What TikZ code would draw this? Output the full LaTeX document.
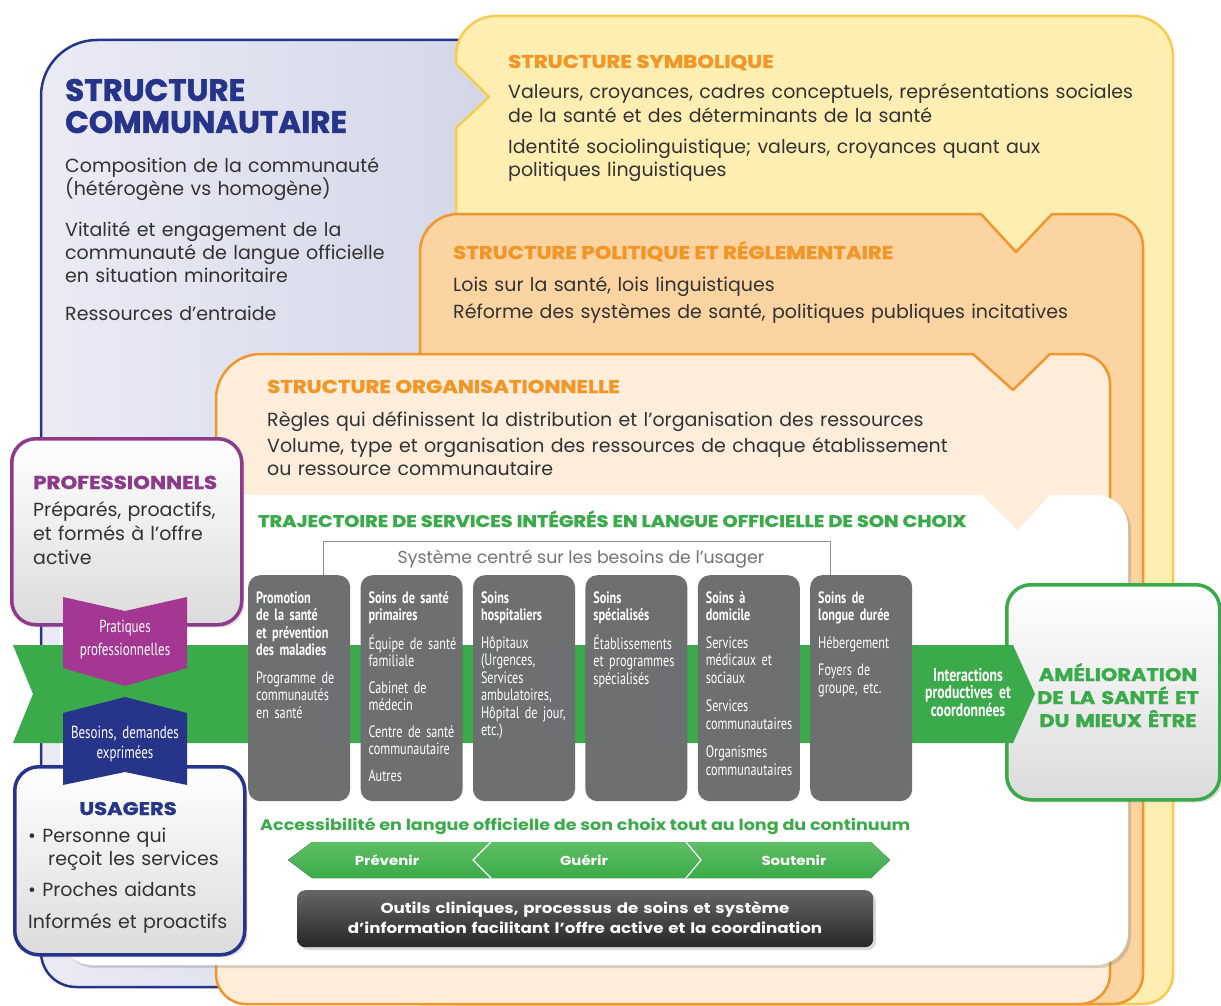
\documentclass[tikz,border=0pt]{standalone}
\usepackage{fontspec}
\setmainfont{Poppins}
\newfontfamily\narrowfont[FakeStretch=0.74]{PT Sans}
\newfontfamily\widefont[FakeStretch=1.15]{Poppins}
\newfontfamily\blackfont[FakeBold=1.5]{Poppins}
\newfontfamily\wideblack[FakeStretch=1.15,FakeBold=1.5]{Poppins}
\usetikzlibrary{positioning,shadows}

\definecolor{commblue}{RGB}{38,52,138}
\definecolor{commfill}{RGB}{234,235,245}
\definecolor{commfilldark}{RGB}{200,205,225}
\definecolor{symbline}{RGB}{247,203,80}
\definecolor{symbfill}{RGB}{254,238,178}
\definecolor{polline}{RGB}{240,150,45}
\definecolor{polfill}{RGB}{251,212,162}
\definecolor{orgfill}{RGB}{253,237,218}
\definecolor{headorange}{RGB}{242,150,40}
\definecolor{trajgreen}{RGB}{58,170,74}
\definecolor{lightgreen}{RGB}{95,190,100}
\definecolor{colgrey}{RGB}{110,111,113}
\definecolor{profpurple}{RGB}{140,58,140}
\definecolor{ribbonpurple}{RGB}{163,55,145}
\definecolor{bodytext}{RGB}{50,50,50}

\tikzset{
    panel/.style={line width=2.5pt, line join=round},
    orangehead/.style={anchor=base west, inner sep=0pt, text=headorange, font=\wideblack\bfseries\fontsize{18.5}{18.5}\selectfont},
    bodytxt/.style={anchor=base west, inner sep=0pt, align=left, text width=700pt, text=bodytext, font=\fontsize{19}{23.5}\selectfont},
    actor/.style={line width=3.5pt, rounded corners=24pt, top color=white, bottom color=black!14, anchor=north west, drop shadow={opacity=.25}},
    servicebox/.style={fill=colgrey, rounded corners=12pt, minimum width=102pt, minimum height=226pt, inner sep=0pt},
    servicetxt/.style={anchor=base west, inner sep=0pt, align=left, text width=110pt, text=white, font=\narrowfont\fontsize{16.5}{17.5}\selectfont},
    ribbontxt/.style={anchor=base, inner sep=0pt, align=center, text width=130pt, text=white, font=\narrowfont\fontsize{17.5}{23}\selectfont},
    stage/.style={text=white, font=\widefont\bfseries\fontsize{13}{13}\selectfont},
}

\begin{document}
\begin{tikzpicture}[x=1pt, y=-1pt]
    \useasboundingbox (0,0) rectangle (1221,1006);
    \fill[white] (0,0) rectangle (1221,1006);

    % nested structures, back to front
    \draw[panel, commblue, left color=commfill, right color=commfilldark]
        (700,40) -- (97,40) arc[start angle=270, end angle=180, radius=56]
        -- (41,952) arc[start angle=180, end angle=90, radius=35] -- (700,987) -- cycle;
    \draw[panel, symbline, fill=symbfill]
        (456,1004) -- (456,128) -- (489,97) -- (456,64) -- (456,56)
        arc[start angle=180, end angle=270, radius=40] -- (1133,16)
        arc[start angle=270, end angle=360, radius=40] -- (1173,974)
        arc[start angle=0, end angle=90, radius=30] -- cycle;
    \draw[panel, polline, fill=polfill]
        (420,1004) -- (420,252) arc[start angle=180, end angle=270, radius=38]
        -- (981,214) -- (1016,252) -- (1052,214) -- (1110,214)
        arc[start angle=270, end angle=360, radius=33] -- (1143,974)
        arc[start angle=0, end angle=90, radius=30] -- cycle;
    \draw[panel, polline, fill=orgfill]
        (246,1004) arc[start angle=90, end angle=180, radius=30]
        -- (216,399) arc[start angle=180, end angle=270, radius=45]
        -- (973,354) -- (1013,390) -- (1050,354) -- (1080,354)
        arc[start angle=270, end angle=360, radius=30] -- (1110,974)
        arc[start angle=0, end angle=90, radius=30] -- cycle;
    \fill[white, drop shadow={opacity=.3, shadow xshift=3pt, shadow yshift=-3pt}]
        (92,965) arc[start angle=90, end angle=180, radius=32] -- (60,495)
        -- (982,495) -- (1018,530) -- (1050,495) -- (1096,495)
        arc[start angle=270, end angle=360, radius=32] -- (1128,933)
        arc[start angle=0, end angle=90, radius=32] -- cycle;

    \node[anchor=base west, inner sep=0pt, text width=400pt, text=commblue,
        font=\blackfont\bfseries\fontsize{31}{32}\selectfont] (commhead) at (65,101) {STRUCTURE\\COMMUNAUTAIRE};
    \node[bodytxt] (commtxt) at (65,172) {Composition de la communauté\\(hétérogène vs homogène)\\[17pt]Vitalité et engagement de la\\communauté de langue officielle\\en situation minoritaire\\[14.5pt]Ressources d’entraide};

    \node[orangehead] (symbhead) at (508,68) {STRUCTURE SYMBOLIQUE};
    \node[bodytxt] (symbtxt) at (508,99) {Valeurs, croyances, cadres conceptuels, représentations sociales\\de la santé et des déterminants de la santé\\[7.5pt]Identité sociolinguistique; valeurs, croyances quant aux\\politiques linguistiques};

    \node[orangehead] (polhead) at (453,259) {STRUCTURE POLITIQUE ET RÉGLEMENTAIRE};
    \node[bodytxt] (poltxt) at (453,291) {Lois sur la santé, lois linguistiques\\[3.5pt]Réforme des systèmes de santé, politiques publiques incitatives};

    \node[orangehead] (orghead) at (267,393) {STRUCTURE ORGANISATIONNELLE};
    \node[bodytxt] (orgtxt) at (267,426) {Règles qui définissent la distribution et l’organisation des ressources\\[2.5pt]Volume, type et organisation des ressources de chaque établissement\\ou ressource communautaire};

    \node[anchor=base west, inner sep=0pt, text=trajgreen, font=\wideblack\bfseries\fontsize{16.8}{16.8}\selectfont]
        (trajhead) at (258,527) {TRAJECTOIRE DE SERVICES INTÉGRÉS EN LANGUE OFFICIELLE DE SON CHOIX};
    \node[anchor=base, inner sep=0pt, text=black!55, font=\fontsize{17.3}{17.3}\selectfont]
        (systeme) at (581,563) {Système centré sur les besoins de l’usager};

    % outcome box sits under the tip of the band
    \node[actor, draw=trajgreen, minimum width=213pt, minimum height=215pt] (amelbox) at (1005,583) {};
    \fill[trajgreen] (13,645) -- (1013,645) -- (1035,694) -- (1013,743) -- (13,743) -- (33,694) -- cycle;

    % continuum of services
    \node[servicebox, anchor=north west] (promo) at (248,575) {};
    \node[servicebox, right=10pt of promo] (prim) {};
    \node[servicebox, right=10pt of prim] (hosp) {};
    \node[servicebox, right=10pt of hosp] (spec) {};
    \node[servicebox, right=10pt of spec] (domi) {};
    \node[servicebox, right=10pt of domi] (longue) {};

    \coordinate (sysL) at ([xshift=75pt]promo.north west);
    \coordinate (sysR) at ([xshift=20pt]longue.north west);
    \draw[black!45, line width=1pt] (sysL) -- ++(0,-34) -| (sysR);

    \node[servicetxt] (promotxt) at ([shift={(8,28)}]promo.north west)
        {\bfseries Promotion\\de la santé\\et prévention\\des maladies\\[10pt]\mdseries Programme de\\communautés\\en santé};
    \node[servicetxt] (primtxt) at ([shift={(8,28)}]prim.north west)
        {\bfseries Soins de santé\\primaires\\[10pt]\mdseries Équipe de santé\\familiale\\[9pt]Cabinet de\\médecin\\[9pt]Centre de santé\\communautaire\\[9pt]Autres};
    \node[servicetxt] (hosptxt) at ([shift={(8,28)}]hosp.north west)
        {\bfseries Soins\\hospitaliers\\[10pt]\mdseries Hôpitaux\\(Urgences,\\Services\\ambulatoires,\\Hôpital de jour,\\etc.)};
    \node[servicetxt] (spectxt) at ([shift={(8,28)}]spec.north west)
        {\bfseries Soins\\spécialisés\\[10pt]\mdseries Établissements\\et programmes\\spécialisés};
    \node[servicetxt] (domitxt) at ([shift={(8,28)}]domi.north west)
        {\bfseries Soins à\\domicile\\[10pt]\mdseries Services\\médicaux et\\sociaux\\[11pt]Services\\communautaires\\[11pt]Organismes\\communautaires};
    \node[servicetxt] (longuetxt) at ([shift={(8,28)}]longue.north west)
        {\bfseries Soins de\\longue durée\\[10pt]\mdseries Hébergement\\[10pt]Foyers de\\groupe, etc.};

    \node[servicetxt, anchor=base, align=center, font=\narrowfont\bfseries\fontsize{18.5}{17.5}\selectfont]
        (interact) at (968,681) {Interactions\\productives et\\coordonnées};
    \node[anchor=base, inner sep=0pt, align=center, text width=210pt, text=trajgreen,
        font=\wideblack\bfseries\fontsize{18.2}{23}\selectfont] (ameltxt) at (1118,681) {AMÉLIORATION\\DE LA SANTÉ ET\\DU MIEUX ÊTRE};

    % the two actors
    \node[actor, draw=profpurple, minimum width=230pt, minimum height=186pt] (prof) at (10,437) {};
    \node[actor, draw=commblue, minimum width=230pt, minimum height=188pt] (usag) at (13,765) {};
    \fill[ribbonpurple] (63,597) -- (125,611) -- (187,597) -- (187,668) -- (125,686) -- (63,668) -- cycle;
    \fill[commblue] (63,713) -- (125,697) -- (187,713) -- (187,785) -- (125,772) -- (63,785) -- cycle;

    \node[anchor=base west, inner sep=0pt, text=profpurple, font=\wideblack\bfseries\fontsize{18.6}{18.6}\selectfont]
        (profhead) at (33,489) {PROFESSIONNELS};
    \node[bodytxt, font=\fontsize{19}{24}\selectfont] (proftxt) at (33,516) {Préparés, proactifs,\\et formés à l’offre\\active};
    \node[ribbontxt] (pratiques) at (125,632) {Pratiques\\professionnelles};
    \node[ribbontxt, font=\narrowfont\fontsize{17.5}{20}\selectfont] (besoins) at (125,738) {Besoins, demandes\\exprimées};
    \node[anchor=base, inner sep=0pt, text=commblue, font=\wideblack\bfseries\fontsize{18.3}{18.3}\selectfont]
        (usaghead) at (128,815) {USAGERS};
    \node[bodytxt, font=\fontsize{19}{23}\selectfont] (usagtxt) at (28,842)
        {\textbullet\ Personne qui\\\hspace*{20pt}reçoit les services\\[8pt]\textbullet\ Proches aidants\\[9pt]Informés et proactifs};

    % accessibility band and tools
    \node[anchor=base west, inner sep=0pt, text=trajgreen, font=\widefont\bfseries\fontsize{15.3}{15.3}\selectfont]
        (access) at (260,830) {Accessibilité en langue officielle de son choix tout au long du continuum};
    \fill[top color=lightgreen, bottom color=trajgreen]
        (288,860) -- (312,842) -- (871,842) -- (890,860) -- (871,878) -- (312,878) -- cycle;
    \draw[white, line width=1.2pt] (491,842) -- (473,860) -- (491,878);
    \draw[white, line width=1.2pt] (686,842) -- (701,860) -- (686,878);
    \node[stage] (prevenir) at (387,860) {Prévenir};
    \node[stage] (guerir) at (584,860) {Guérir};
    \node[stage] (soutenir) at (794,860) {Soutenir};

    \node[anchor=north west, minimum width=576pt, minimum height=57pt, rounded corners=8pt,
        top color=black!60, bottom color=black!85, drop shadow={opacity=.3}] (outils) at (297,890) {};
    \node[anchor=base, inner sep=0pt, align=center, text width=570pt, text=white,
        font=\widefont\bfseries\fontsize{14.5}{20}\selectfont] (outilstxt) at (585,913)
        {Outils cliniques, processus de soins et système\\d’information facilitant l’offre active et la coordination};
\end{tikzpicture}
\end{document}
